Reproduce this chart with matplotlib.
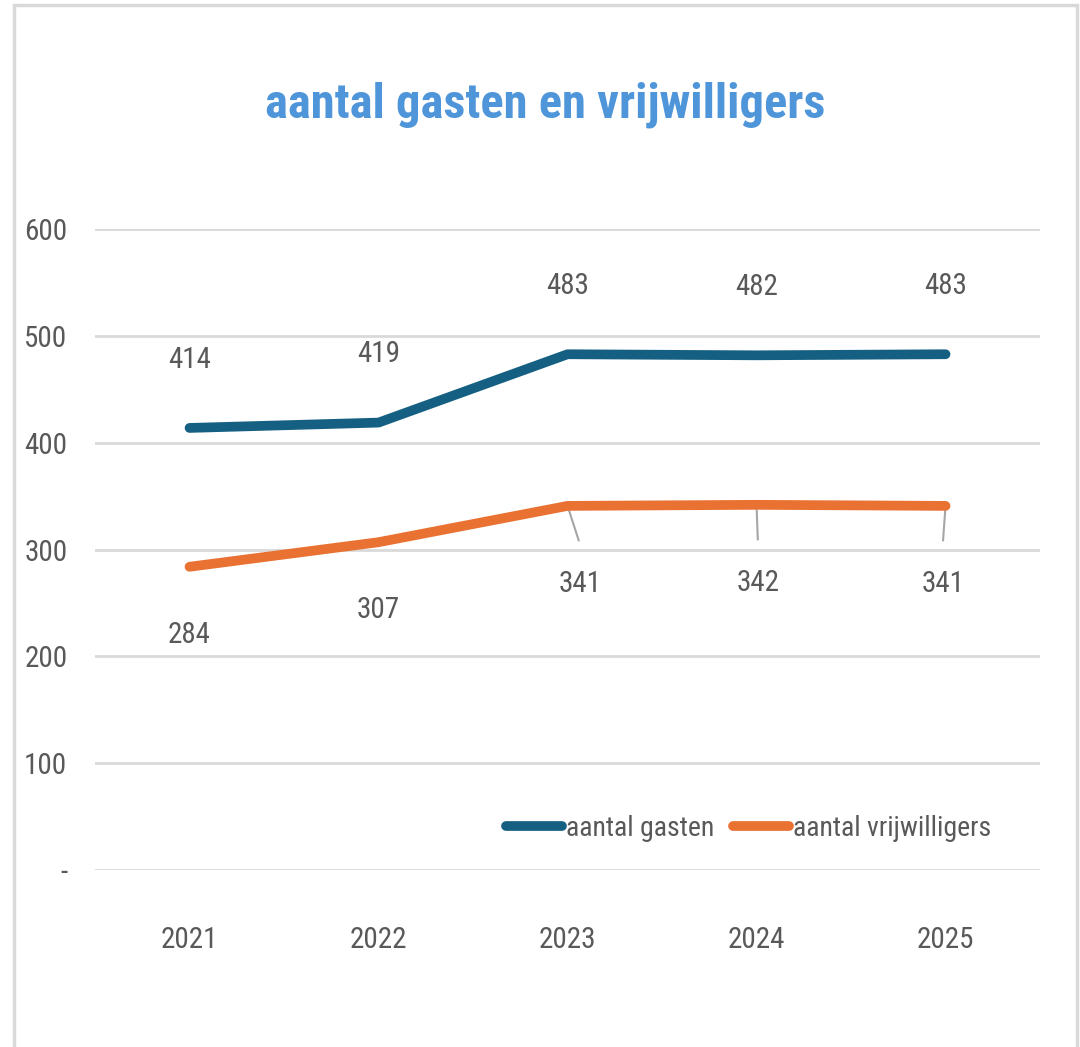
import matplotlib.pyplot as plt
from matplotlib.patches import Rectangle
from matplotlib import font_manager

names = {f.name for f in font_manager.fontManager.ttflist}
narrow = [n for n in ['Liberation Sans Narrow', 'Roboto Condensed', 'Open Sans Condensed'] if n in names]
plt.rcParams['font.family'] = narrow + ['Roboto', 'DejaVu Sans']

years = ['2021', '2022', '2023', '2024', '2025']
gasten = [414, 419, 483, 482, 483]
vrijwilligers = [284, 307, 341, 342, 341]
yticks = [0, 100, 200, 300, 400, 500, 600]
ylabels = ['-', '100', '200', '300', '400', '500', '600']

c_gast = '#156082'
c_vrij = '#E97132'
c_text = '#595959'

fig = plt.figure(figsize=(10.8, 10.47), dpi=100)
ax = fig.add_axes([0.088, 0.169, 0.875, 0.612])

x = list(range(len(years)))
ax.plot(x, gasten, color=c_gast, lw=7, solid_capstyle='round', solid_joinstyle='round',
        label='aantal gasten', zorder=3)
ax.plot(x, vrijwilligers, color=c_vrij, lw=7, solid_capstyle='round', solid_joinstyle='round',
        label='aantal vrijwilligers', zorder=3)

# data labels
for i, v in enumerate(gasten):
    ax.annotate(str(v), (i, v), xytext=(0, 39), textcoords='offset points',
                ha='center', va='bottom', fontsize=21, color=c_text)
for i, v in enumerate(vrijwilligers):
    if i < 2:
        ax.annotate(str(v), (i, v), xytext=(0, -39), textcoords='offset points',
                    ha='center', va='top', fontsize=21, color=c_text)
    else:
        dx = [0, 0, 9, 1, -2][i]
        ax.annotate(str(v), (i, v), xytext=(dx, -46), textcoords='offset points',
                    ha='center', va='top', fontsize=21, color=c_text)
        ax.annotate('', (i, v), xytext=(dx * 0.9, -25), textcoords='offset points',
                    arrowprops=dict(arrowstyle='-', color='#A6A6A6', lw=1.5,
                                    shrinkA=0, shrinkB=0), zorder=2)

ax.set_xlim(-0.5, len(years) - 0.5)
ax.set_ylim(0, 600)
ax.set_xticks(x)
ax.set_xticklabels(years)
ax.set_yticks(yticks)
ax.set_yticklabels(ylabels)
ax.tick_params(length=0, labelsize=21, colors=c_text)
ax.tick_params(axis='x', pad=40)
ax.tick_params(axis='y', pad=20)
ax.grid(axis='y', color='#D9D9D9', lw=2)
ax.set_axisbelow(True)
for s in ax.spines.values():
    s.set_visible(False)

leg = ax.legend(loc='lower right', bbox_to_anchor=(0.975, 0.005), ncol=2, frameon=False,
                fontsize=20, handlelength=2.0, handletextpad=0.15, columnspacing=0.7,
                labelcolor=c_text)

fig.text(0.505, 0.9, 'aantal gasten en vrijwilligers', ha='center', va='center',
         fontsize=35, fontweight='bold', color='#4E95D9')

fig.patches.append(Rectangle((14 / 1080, -0.01), 1063 / 1080, 1 - 5 / 1047 + 0.01,
                             transform=fig.transFigure, fill=False,
                             edgecolor='#D9D9D9', lw=2.5))

fig.savefig('out.png', dpi=100)
